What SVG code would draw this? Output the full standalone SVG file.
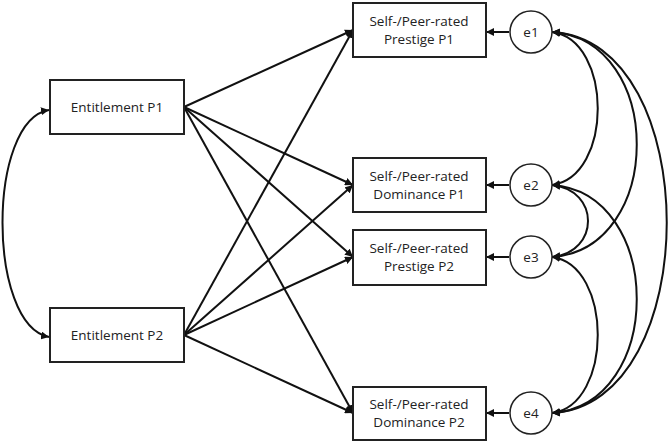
<svg xmlns="http://www.w3.org/2000/svg" width="670" height="443" viewBox="0 0 670 443">
<defs>
<marker id="a" viewBox="0 0 10 10" refX="10" refY="5" markerWidth="8" markerHeight="8" markerUnits="userSpaceOnUse" orient="auto-start-reverse"><path d="M0,0 L10,5 L0,10 z" fill="#111"/></marker>
<style>
rect{fill:#fff;stroke:#222;stroke-width:2}
circle{fill:#fff;stroke:#222;stroke-width:1.5}
text{font-family:"Open Sans","Liberation Sans",sans-serif;font-size:13.5px;fill:#222;text-anchor:middle}
.c path,.c line{fill:none;stroke:#111;stroke-width:2}
</style>
</defs>
<rect x="0" y="0" width="670" height="443" style="fill:#fff;stroke:none"/>
<g class="c">
<path d="M49,110 C-13,120 -13,325 49,337" marker-start="url(#a)" marker-end="url(#a)"/>
<line x1="184" y1="107" x2="353" y2="30" marker-end="url(#a)"/>
<line x1="184" y1="107" x2="353" y2="185" marker-end="url(#a)"/>
<line x1="184" y1="107" x2="353" y2="257" marker-end="url(#a)"/>
<line x1="184" y1="107" x2="353" y2="413" marker-end="url(#a)"/>
<line x1="184" y1="335" x2="353" y2="30" marker-end="url(#a)"/>
<line x1="184" y1="335" x2="353" y2="185" marker-end="url(#a)"/>
<line x1="184" y1="335" x2="353" y2="257" marker-end="url(#a)"/>
<line x1="184" y1="335" x2="353" y2="413" marker-end="url(#a)"/>
<line x1="509" y1="32" x2="486" y2="32" marker-end="url(#a)"/>
<line x1="509" y1="185" x2="486" y2="185" marker-end="url(#a)"/>
<line x1="509" y1="257" x2="486" y2="257" marker-end="url(#a)"/>
<line x1="509" y1="413" x2="486" y2="413" marker-end="url(#a)"/>
<path d="M552,32 C613,40 613,177 552,185" marker-start="url(#a)" marker-end="url(#a)"/>
<path d="M552,32 C665,40 665,249 552,257" marker-start="url(#a)" marker-end="url(#a)"/>
<path d="M552,32 C705,40 705,405 552,413" marker-start="url(#a)" marker-end="url(#a)"/>
<path d="M552,185 C600,190 600,252 552,257" marker-start="url(#a)" marker-end="url(#a)"/>
<path d="M552,185 C665,193 665,405 552,413" marker-start="url(#a)" marker-end="url(#a)"/>
<path d="M552,257 C613,265 613,405 552,413" marker-start="url(#a)" marker-end="url(#a)"/>
</g>
<g id="ent1"><rect x="50" y="80" width="134" height="54"/><text x="117" y="112">Entitlement P1</text></g>
<g id="ent2"><rect x="50" y="308" width="134" height="54"/><text x="117" y="340">Entitlement P2</text></g>
<g id="pp1"><rect x="353" y="3" width="133" height="54"/><text x="419" y="26">Self-/Peer-rated</text><text x="419" y="44">Prestige P1</text></g>
<g id="dp1"><rect x="353" y="158" width="133" height="54"/><text x="419" y="181">Self-/Peer-rated</text><text x="419" y="199">Dominance P1</text></g>
<g id="pp2"><rect x="353" y="230" width="133" height="55"/><text x="419" y="253">Self-/Peer-rated</text><text x="419" y="271">Prestige P2</text></g>
<g id="dp2"><rect x="353" y="387" width="133" height="53"/><text x="419" y="409">Self-/Peer-rated</text><text x="419" y="427">Dominance P2</text></g>
<g id="e1"><circle cx="531" cy="32" r="21"/><text x="531" y="37">e1</text></g>
<g id="e2"><circle cx="531" cy="185" r="21"/><text x="531" y="190">e2</text></g>
<g id="e3"><circle cx="531" cy="257" r="21"/><text x="531" y="262">e3</text></g>
<g id="e4"><circle cx="531" cy="413" r="21"/><text x="531" y="418">e4</text></g>
</svg>
